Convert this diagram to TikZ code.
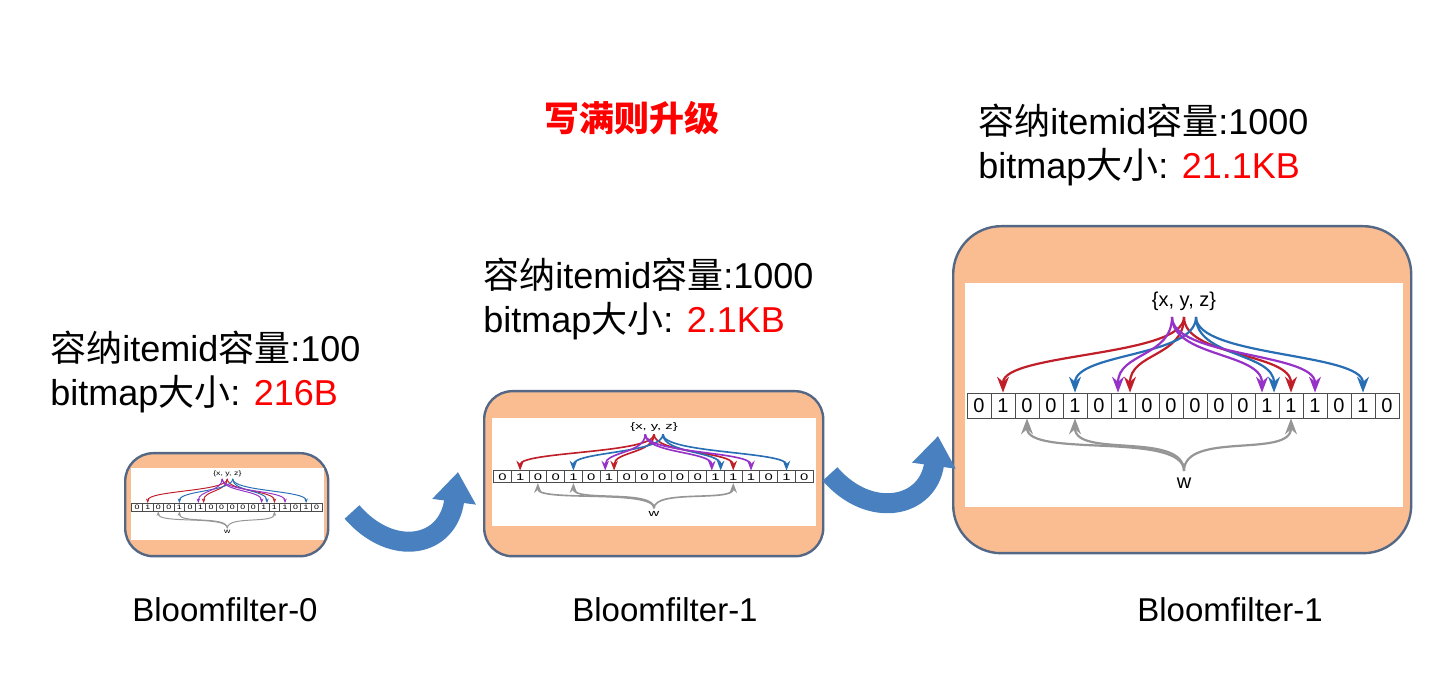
\documentclass[tikz,border=0pt]{standalone}
\usepackage{fontspec}
\setmainfont{Liberation Sans}
\newfontfamily\cjk{Noto Sans CJK SC}
\usepackage{tikz}
\usetikzlibrary{calc}
\usetikzlibrary{arrows.meta}
\usetikzlibrary{positioning}
\definecolor{peach}{RGB}{250,189,146}
\definecolor{frameblue}{RGB}{84,104,134}
\definecolor{bigblue}{RGB}{72,128,192}
\definecolor{hred}{RGB}{192,30,40}
\definecolor{hblue}{RGB}{40,110,180}
\definecolor{hpurple}{RGB}{150,50,200}
\definecolor{hgray}{RGB}{150,150,150}
\newcommand{\zh}[1]{{\cjk #1}}
\tikzstyle{filterbox}=[draw=frameblue, line width=1.2pt, fill=peach, rounded corners=14pt]
\tikzstyle{bitcell}=[draw=black!70, line width=0.4pt, shape=rectangle, minimum width=12pt, minimum height=12.5pt, inner sep=0pt, font=\fontsize{10}{10}\selectfont]
\tikzstyle{infotext}=[anchor=north west, align=left, inner sep=0pt, font=\fontsize{18}{22}\selectfont]
\tikzstyle{captext}=[inner sep=0pt, font=\fontsize{16.5}{16.5}\selectfont]
\tikzstyle{bigarrow}=[line width=10pt, color=bigblue, -{Triangle[length=15pt, width=21pt]}]
% one bloom filter sketch, drawn in the frame of the largest one
\newcommand{\bloomfig}[5]{%
\begin{scope}[shift={(#2,#3)}, xscale=#4, yscale=#5, transform shape]
\fill[white] (0,0) rectangle (438,224);
\foreach \b [count=\i from 0] in {0,1,0,0,1,0,1,0,0,0,0,0,1,1,1,0,1,0}
  \node[bitcell] (#1c\i) at ({14+24*\i},122.5) {\b};
\node[inner sep=1pt, font=\fontsize{10}{10}\selectfont] (#1set) at (219,18) {\{x, y, z\}};
\node[inner sep=1pt, font=\fontsize{10}{10}\selectfont] (#1w) at (219,200) {w};
\coordinate (#1p) at (207,34);
\coordinate (#1r) at (219,34);
\coordinate (#1b) at (231,34);
\coordinate (#1g) at (219,188);
\begin{scope}[line width=#4*1.1pt, -{Stealth[scale=#4]}]
\draw[hred] (#1r) .. controls +(0,40) and +(0,-40) .. (#1c1.north);
\draw[hred] (#1r) .. controls +(0,40) and +(0,-40) .. ($(#1c6.north)+(7,0)$);
\draw[hred] (#1r) .. controls +(0,40) and +(0,-40) .. (#1c13.north);
\draw[hblue] (#1b) .. controls +(0,40) and +(0,-40) .. (#1c4.north);
\draw[hblue] (#1b) .. controls +(0,40) and +(0,-40) .. ($(#1c12.north)+(7,0)$);
\draw[hblue] (#1b) .. controls +(0,40) and +(0,-40) .. (#1c16.north);
\draw[hpurple] (#1p) .. controls +(0,40) and +(0,-40) .. ($(#1c6.north)+(-5,0)$);
\draw[hpurple] (#1p) .. controls +(0,40) and +(0,-40) .. ($(#1c12.north)+(-5,0)$);
\draw[hpurple] (#1p) .. controls +(0,40) and +(0,-40) .. (#1c14.north);
\draw[hgray] (#1g) .. controls +(0,-40) and +(0,40) .. (#1c2.south);
\draw[hgray] (#1g) .. controls +(0,-40) and +(0,40) .. (#1c4.south);
\draw[hgray] (#1g) .. controls +(0,-40) and +(0,40) .. (#1c13.south);
\end{scope}
\end{scope}}
\begin{document}
\begin{tikzpicture}[x=0.5pt, y=-0.5pt]
\useasboundingbox[fill=white] (0,0) rectangle (1440,683);
\node[inner sep=0pt, text=red, font=\fontsize{17.5}{17.5}\selectfont\cjk\bfseries] (title) at (632,118) {写满则升级};

\node[filterbox, anchor=north west, minimum width=101.5pt, minimum height=51.5pt] (bf0) at (124,452) {};
\node[filterbox, anchor=north west, minimum width=169.5pt, minimum height=82.5pt] (bf1) at (483,390) {};
\node[filterbox, anchor=north west, minimum width=229pt, minimum height=163.5pt, rounded corners=24pt] (bf2) at (952,225) {};
\bloomfig{s}{131}{468}{0.44}{0.32}
\bloomfig{m}{492}{418}{0.74}{0.48}
\bloomfig{l}{965}{283}{1.0}{1.0}

\node[infotext] (info0) at (50,331) {\zh{容纳}itemid\zh{容量}:100\\bitmap\zh{大小}: \textcolor{red}{216B}};
\node[infotext] (info1) at (483,258) {\zh{容纳}itemid\zh{容量}:1000\\bitmap\zh{大小}: \textcolor{red}{2.1KB}};
\node[infotext] (info2) at (978,104) {\zh{容纳}itemid\zh{容量}:1000\\bitmap\zh{大小}: \textcolor{red}{21.1KB}};

\node[captext] (cap0) at (225,610) {Bloomfilter-0};
\node[captext] (cap1) at (665,610) {Bloomfilter-1};
\node[captext] (cap2) at (1230,610) {Bloomfilter-1};

\coordinate (up0) at (352,512);
\coordinate (tip0) at (458,472);
\coordinate (up1) at (830,474);
\coordinate (tip1) at (938,436);
\draw[bigarrow] (up0) .. controls (392,558) and (448,548) .. (tip0);
\draw[bigarrow] (up1) .. controls (870,520) and (928,508) .. (tip1);
\end{tikzpicture}
\end{document}
